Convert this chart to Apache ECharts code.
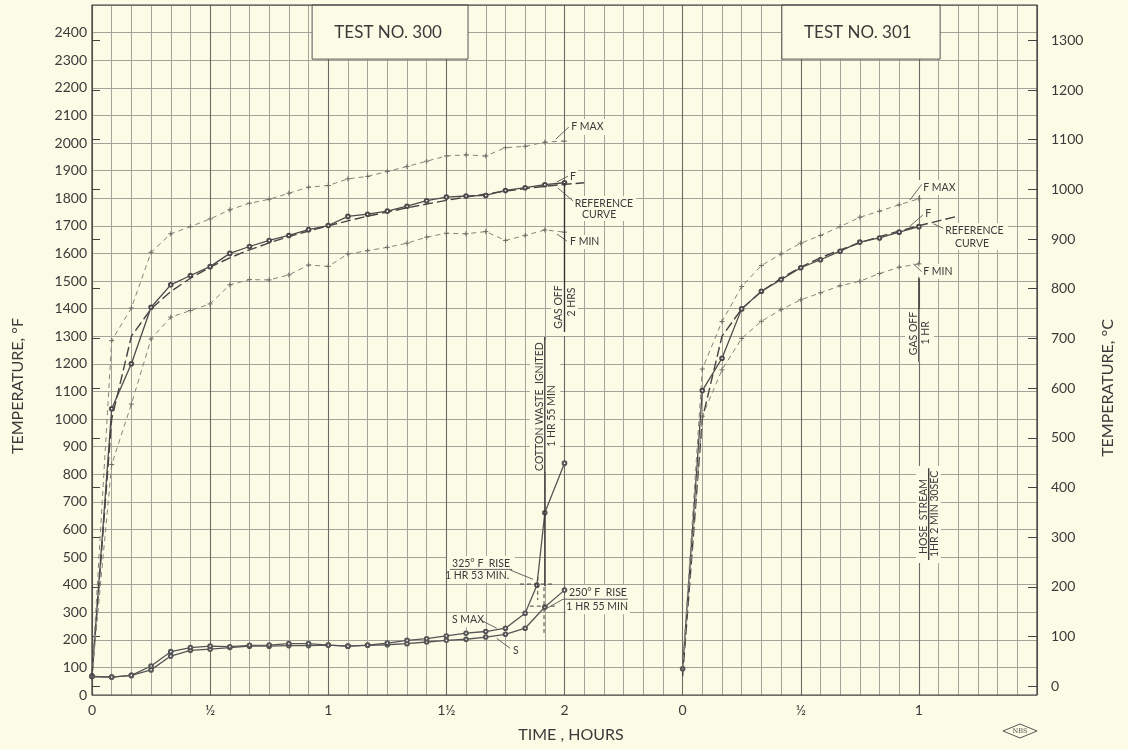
<!DOCTYPE html>
<html><head><meta charset="utf-8">
<script src="https://cdn.jsdelivr.net/npm/echarts@6/dist/echarts.min.js"></script>
<style>html,body{margin:0;padding:0;background:#fcfbe6;}#c{width:1128px;height:749px;}</style>
</head><body><div id="c"></div>
<script>
// ---------- DATA (time in minutes from start of each test, temperature in °F) ----------
const minutes300 = [0,5,10,15,20,25,30,35,40,45,50,55,60,65,70,75,80,85,90,95,100,105,110,115,120];
const furnace300 = [70,1037,1200,1405,1486,1520,1552,1600,1625,1647,1665,1686,1701,1734,1742,1753,1771,1791,1804,1808,1810,1828,1838,1849,1856];
const furnaceMax300 = [70,1284,1402,1604,1671,1697,1725,1758,1782,1796,1818,1840,1846,1870,1879,1897,1915,1934,1953,1957,1953,1983,1988,2003,2007];
const furnaceMin300 = [70,835,1054,1290,1369,1393,1417,1486,1505,1504,1522,1558,1553,1598,1610,1622,1637,1659,1673,1671,1679,1647,1665,1685,1677];
const refMinutes300 = [0,5,10,15,20,25,30,35,40,45,50,55,60,65,70,75,80,85,90,95,100,105,110,115,120,125];
const reference300 = [68,1000,1300,1399,1462,1510,1550,1584,1613,1638,1661,1681,1700,1718,1735,1750,1765,1779,1792,1804,1815,1826,1835,1843,1850,1856];
const surface300 = [67,65,71,91,141,162,166,172,177,177,179,179,181,177,180,182,186,192,198,202,210,220,242,319,380];
const surfMaxMinutes300 = [0,5,10,15,20,25,30,35,40,45,50,55,60,65,70,75,80,85,90,95,100,105,110,113,115,120];
const surfaceMax300 = [67,65,71,105,157,172,177,175,180,181,186,186,181,177,181,188,198,204,214,224,230,242,296,398,660,840];

const minutes301 = [0,5,10,15,20,25,30,35,40,45,50,55,60];
const furnace301 = [95,1103,1220,1399,1463,1505,1548,1577,1608,1641,1656,1677,1697];
const furnaceMax301 = [95,1181,1353,1480,1556,1598,1637,1665,1697,1731,1753,1776,1798];
const furnaceMin301 = [95,1010,1178,1292,1354,1396,1432,1457,1483,1499,1527,1550,1562];
const refMinutes301 = [0,5,10,15,20,25,30,35,40,45,50,55,60,65,70];
const reference301 = [68,1000,1300,1399,1462,1510,1550,1584,1613,1638,1661,1681,1700,1718,1735];

const xTickMinutes = [0,30,60,90,120,150,180,210];
const xTickLabels = ['0','½','1','1½','2','0','½','1'];
const celsiusTicks = [0,100,200,300,400,500,600,700,800,900,1000,1100,1200,1300];

// ---------- LAYOUT / STYLE ----------
const test301Offset = 150;   // test 301 plotted after test 300 on the same time scale
const BG = '#fcfbe6';
const INK = '#3a3a3a';
const FONT = 'Lato';
const F_MIN = 0, F_MAX = 2500;
const C_MIN = (F_MIN - 32) / 1.8, C_MAX = (F_MAX - 32) / 1.8;

function pairs(xs, ys, off) { return ys.map((v, i) => [xs[i] + off, v]); }
const plus = 'path://M5,0 L5,10 M0,5 L10,5';

function solid(name, data, color) {
  return { name, type: 'line', data, symbol: 'emptyCircle', symbolSize: 3.6,
    lineStyle: { color, width: 1.3 }, itemStyle: { color, borderColor: color, borderWidth: 0.9 } };
}
function dashedMinMax(name, data) {
  return { name, type: 'line', data, symbol: plus, symbolSize: 5,
    lineStyle: { color: '#85857c', width: 1, type: [5, 4] },
    itemStyle: { color: 'none', borderColor: '#6d6d66', borderWidth: 1 } };
}
function refCurve(name, data) {
  return { name, type: 'line', data, symbol: 'none',
    lineStyle: { color: '#444', width: 1.4, type: [10, 4] } };
}

const series = [
  refCurve('Reference 300', pairs(refMinutes300, reference300, 0)),
  solid('F 300', pairs(minutes300, furnace300, 0), '#4a4a4a'),
  dashedMinMax('F MAX 300', pairs(minutes300, furnaceMax300, 0)),
  dashedMinMax('F MIN 300', pairs(minutes300, furnaceMin300, 0)),
  solid('S 300', pairs(minutes300, surface300, 0), '#555'),
  solid('S MAX 300', pairs(surfMaxMinutes300, surfaceMax300, 0), '#555'),
  refCurve('Reference 301', pairs(refMinutes301, reference301, test301Offset)),
  solid('F 301', pairs(minutes301, furnace301, test301Offset), '#4a4a4a'),
  dashedMinMax('F MAX 301', pairs(minutes301, furnaceMax301, test301Offset)),
  dashedMinMax('F MIN 301', pairs(minutes301, furnaceMin301, test301Offset))
];
series.forEach(s => { s.xAxisIndex = 0; s.yAxisIndex = 0; s.animation = false; s.z = 3; });

const option = {
  backgroundColor: BG,
  animation: false,
  grid: { left: 92, right: 91, top: 5, bottom: 54, containLabel: false },
  xAxis: [
    { type: 'value', min: 0, max: 240, interval: 5, position: 'bottom',
      axisLine: { show: false }, axisTick: { show: false },
      splitLine: { show: true, lineStyle: { color: '#a3a399', width: 1 } },
      axisLabel: { color: INK, fontFamily: FONT, fontSize: 14, margin: 8,
        formatter: v => { const i = xTickMinutes.indexOf(v); return i >= 0 ? xTickLabels[i] : ''; } } },
    { type: 'value', min: 0, max: 240, interval: 30, position: 'bottom',
      axisLine: { show: false }, axisTick: { show: false }, axisLabel: { show: false },
      splitLine: { show: true, lineStyle: { color: '#6c6c64', width: 1.1 } } }
  ],
  yAxis: [
    { type: 'value', min: F_MIN, max: F_MAX, interval: 100, position: 'left',
      axisLine: { show: false }, axisTick: { show: false },
      splitLine: { show: true, lineStyle: { color: '#a3a399', width: 1 } },
      axisLabel: { color: INK, fontFamily: FONT, fontSize: 14, margin: 5,
        formatter: v => (v <= 2400 ? String(v) : '') } },
    { type: 'value', min: C_MIN, max: C_MAX, position: 'right',
      axisLine: { show: false }, splitLine: { show: false },
      axisTick: { show: true, inside: false, length: 8, customValues: celsiusTicks, lineStyle: { color: '#444', width: 1 } },
      axisLabel: { show: true, customValues: celsiusTicks, color: INK, fontFamily: FONT, fontSize: 14, margin: 14,
        formatter: v => String(Math.round(v)) } },
    { type: 'value', min: C_MIN, max: C_MAX, position: 'right',
      axisLine: { show: false }, splitLine: { show: false }, axisLabel: { show: false },
      axisTick: { show: true, inside: true, length: 9, customValues: celsiusTicks, lineStyle: { color: '#444', width: 1 } } }
  ],
  series
};

const chart = echarts.init(document.getElementById('c'), null, { renderer: 'canvas' });
chart.setOption(option);

// ---------- ANNOTATIONS (in data coordinates: absolute minutes, °F) ----------
const P = (t, T) => chart.convertToPixel({ xAxisIndex: 0, yAxisIndex: 0 }, [t, T]);

const knockouts = [
  [55.9, 2500, 95.5, 2304, true], [175.2, 2500, 215.4, 2304, true],
  [120.6, 2087, 130.3, 2029], [120.4, 1906, 123.4, 1855], [121.9, 1808, 138.2, 1717],
  [120.4, 1667, 129.0, 1616], [116.6, 1496, 123.4, 1301], [111.2, 1286, 118.9, 808],
  [90.2, 504, 107.4, 406], [120.4, 399, 136.6, 293], [90.7, 297, 99.8, 246], [105.9, 185, 108.4, 138],
  [210.0, 1866, 219.4, 1812], [210.3, 1772, 213.3, 1721], [215.4, 1710, 232.6, 1612],
  [210.0, 1562, 218.7, 1507], [206.5, 1399, 213.8, 1207], [209.3, 830, 215.6, 478]
];
const texts = [
  ['TEST NO. 300', 75.2, 2402, 'center', 0, 17], ['TEST NO. 301', 194.5, 2402, 'center', 0, 17],
  ['F MAX', 121.7, 2058, 'left'], ['F', 121.4, 1880, 'left'], ['REFERENCE', 130.0, 1779, 'center'],
  ['CURVE', 128.8, 1741, 'center'], ['F MIN', 121.4, 1641, 'left'],
  ['GAS OFF', 118.6, 1406, 'center', 1], ['2 HRS', 121.7, 1424, 'center', 1],
  ['COTTON WASTE  IGNITED', 113.7, 1045, 'center', 1], ['1 HR 55 MIN', 116.7, 1011, 'center', 1],
  ['325° F  RISE', 98.8, 476, 'center'], ['1 HR 53 MIN.', 97.8, 431, 'center'],
  ['250° F  RISE', 128.5, 371, 'center'], ['1 HR 55 MIN', 128.3, 320, 'center'],
  ['S MAX', 91.4, 272, 'left'], ['S', 106.9, 161, 'left'],
  ['F MAX', 211.1, 1838, 'left'], ['F', 211.6, 1745, 'left'], ['REFERENCE', 224.1, 1681, 'center'],
  ['CURVE', 223.5, 1637, 'center'], ['F MIN', 211.1, 1534, 'left'],
  ['GAS OFF', 208.6, 1310, 'center', 1], ['1 HR', 211.6, 1312, 'center', 1],
  ['HOSE  STREAM', 211.2, 647, 'center', 1], ['1HR 2 MIN 30SEC', 214.0, 656, 'center', 1]
];
const leaders = [
  [117.8, 2014, 121.1, 2058], [118.1, 1859, 120.9, 1880], [118.3, 1837, 122.2, 1790], [118.1, 1670, 120.6, 1645],
  [106.2, 453, 112.0, 419], [90.9, 455, 106.7, 455], [114.8, 308, 119.6, 347], [119.6, 347, 136.1, 347],
  [99.0, 269, 102.8, 242], [102.8, 205, 106.2, 169],
  [207.7, 1793, 210.7, 1850], [207.6, 1697, 211.0, 1739], [213.7, 1707, 216.2, 1691], [208.6, 1562, 210.7, 1534]
];
const separators = [[120, 1855, 120, 1315], [115, 1297, 115, 395], [210, 1514, 210, 1207], [212.5, 822, 212.5, 489]];
const crosshairs = [[108.7, 402, 117.1, 402], [113.2, 428, 113.2, 344], [111.2, 322, 118.3, 322], [114.8, 391, 114.8, 225]];

const els = [];
knockouts.forEach(k => {
  const a = P(k[0], k[1]), b = P(k[2], k[3]);
  els.push({ type: 'rect', z: 1, shape: { x: a[0], y: a[1], width: b[0] - a[0], height: b[1] - a[1] },
    style: { fill: BG, stroke: k[4] ? '#555' : null, lineWidth: k[4] ? 1 : 0 }, silent: true });
});
const lineEl = (s, style, z) => {
  const a = P(s[0], s[1]), b = P(s[2], s[3]);
  return { type: 'line', z, shape: { x1: a[0], y1: a[1], x2: b[0], y2: b[1] }, style, silent: true };
};
leaders.forEach(s => els.push(lineEl(s, { stroke: '#555', lineWidth: 0.9 }, 9)));
separators.forEach(s => els.push(lineEl(s, { stroke: '#333', lineWidth: 1.3 }, 9)));
crosshairs.forEach(s => els.push(lineEl(s, { stroke: '#444', lineWidth: 1, lineDash: [4, 3] }, 9)));
texts.forEach(tx => {
  const p = P(tx[1], tx[2]);
  els.push({ type: 'text', z: 10, x: p[0], y: p[1], rotation: tx[4] ? Math.PI / 2 : 0, silent: true,
    style: { text: tx[0], fill: '#3a3a3a', fontFamily: FONT, fontSize: tx[5] || 10.5,
      align: tx[3], textAlign: tx[3], verticalAlign: 'middle', textVerticalAlign: 'middle' } });
});
// plot frame
const c0 = P(0, F_MIN), c1 = P(240, F_MAX);
els.push({ type: 'rect', z: 20, silent: true, shape: { x: c0[0], y: c1[1], width: c1[0] - c0[0], height: c0[1] - c1[1] },
  style: { fill: null, stroke: '#3c3c3c', lineWidth: 1.2 } });
// axis titles
els.push({ type: 'text', z: 10, x: 18, y: 386, rotation: Math.PI / 2, silent: true,
  style: { text: 'TEMPERATURE, °F', fill: INK, fontFamily: FONT, fontSize: 16, align: 'center', textAlign: 'center', verticalAlign: 'middle', textVerticalAlign: 'middle' } });
els.push({ type: 'text', z: 10, x: 1108, y: 388, rotation: Math.PI / 2, silent: true,
  style: { text: 'TEMPERATURE, °C', fill: INK, fontFamily: FONT, fontSize: 16, align: 'center', textAlign: 'center', verticalAlign: 'middle', textVerticalAlign: 'middle' } });
els.push({ type: 'text', z: 10, x: 571, y: 735, silent: true,
  style: { text: 'TIME , HOURS', fill: INK, fontFamily: FONT, fontSize: 16, align: 'center', textAlign: 'center', verticalAlign: 'middle', textVerticalAlign: 'middle' } });
// NBS mark
els.push({ type: 'polygon', z: 10, silent: true, shape: { points: [[1003, 731], [1020, 724], [1037, 731], [1020, 738]] },
  style: { fill: null, stroke: '#555', lineWidth: 1 } });
els.push({ type: 'text', z: 10, x: 1020, y: 731, silent: true,
  style: { text: 'NBS', fill: '#444', fontFamily: 'DejaVu Serif', fontSize: 6.5, align: 'center', textAlign: 'center', verticalAlign: 'middle', textVerticalAlign: 'middle' } });

chart.setOption({ graphic: { elements: els } });
</script></body></html>
